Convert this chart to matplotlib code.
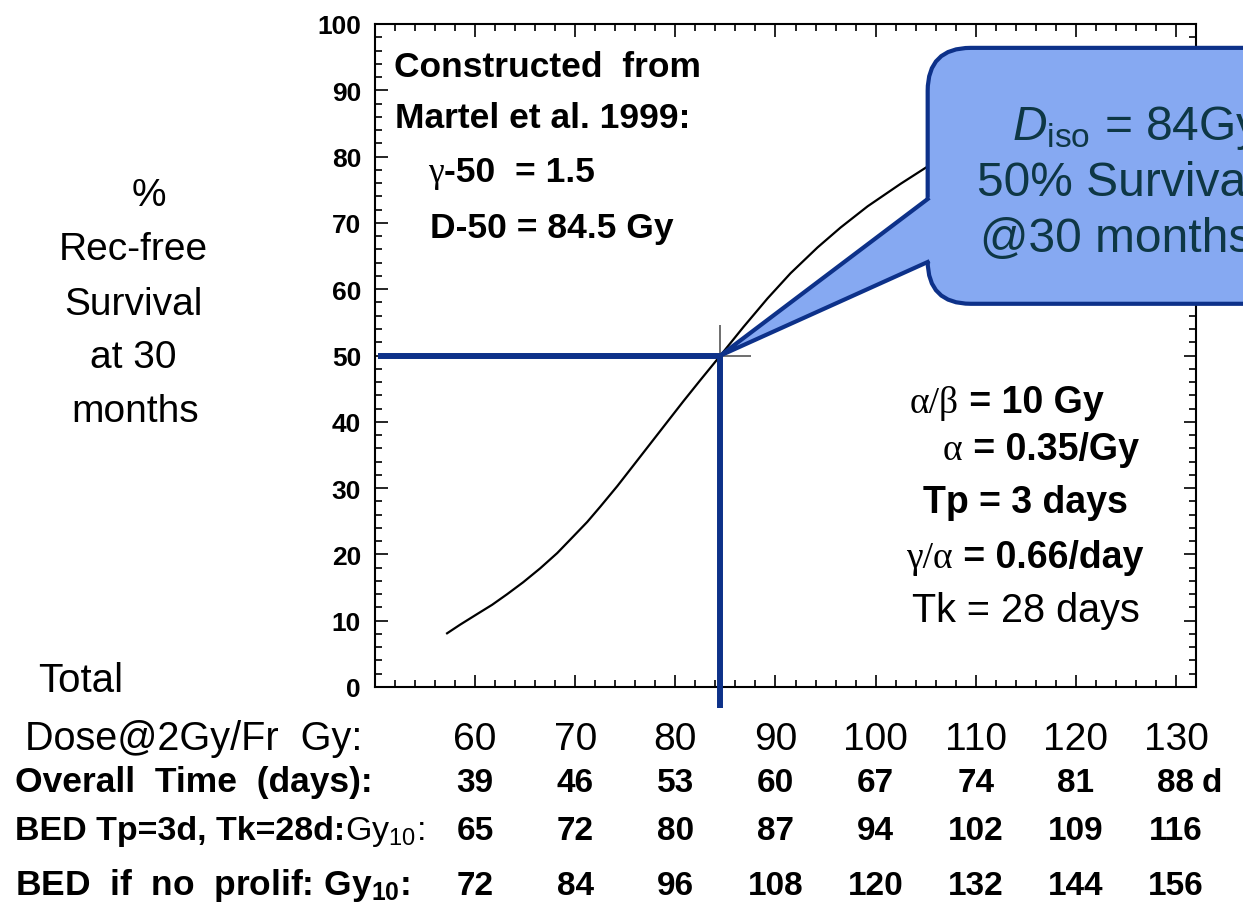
import numpy as np
import matplotlib.pyplot as plt
import matplotlib.transforms as mtransforms
from matplotlib.patches import FancyBboxPatch, Polygon
from matplotlib.ticker import MultipleLocator

plt.rcParams['font.family'] = ['Liberation Sans', 'DejaVu Sans']
plt.rcParams['mathtext.fontset'] = 'custom'
plt.rcParams['mathtext.rm'] = 'Liberation Sans'
plt.rcParams['mathtext.it'] = 'Liberation Sans:italic'
plt.rcParams['mathtext.bf'] = 'Liberation Sans:bold'

# Recurrence-free survival at 30 months vs total dose (2 Gy fractions)
dose = [57.2, 58.5, 60.2, 61.7, 63.2, 64.8, 66.5, 68.2, 69.8, 71.2, 72.5,
        74.2, 75.8, 77.5, 79.2, 80.8, 82.5, 84.5, 86.8, 89.2, 91.5, 94.2,
        96.5, 99.2, 102.5, 105.7]
survival = [8.1, 9.4, 11.0, 12.4, 14.0, 15.8, 17.9, 20.2, 22.7, 24.9, 27.2,
            30.3, 33.4, 36.7, 40.0, 43.1, 46.3, 50.0, 54.3, 58.6, 62.4, 66.3,
            69.3, 72.5, 75.9, 79.0]

d50 = 84.5      # dose for 50 % survival
s50 = 50

# Table under the dose axis
dose_cols = [60, 70, 80, 90, 100, 110, 120, 130]
overall_time = [39, 46, 53, 60, 67, 74, 81, 88]
bed_prolif = [65, 72, 80, 87, 94, 102, 109, 116]
bed_no_prolif = [72, 84, 96, 108, 120, 132, 144, 156]

navy = '#0d3189'
box_face = '#86a9f2'
box_text = '#0e3745'

W, H = 1243, 904
fig = plt.figure(figsize=(W / 100, H / 100), dpi=100)
ax = fig.add_axes([375 / W, 1 - 688 / H, 821 / W, 663 / H])
ax.set_xlim(50, 132)
ax.set_ylim(0, 100)

ax.plot(dose, survival, color='k', lw=1.6, zorder=3,
        solid_joinstyle='round')

# small crosshair on the 50 % point
ax.plot([d50], [s50], marker='+', ms=44, mew=1.2, color='#555555', zorder=3)

# guide lines to the axes
ax.plot([50.3, d50], [s50, s50], color=navy, lw=4.3, solid_capstyle='butt',
        zorder=6, clip_on=False)
ax.plot([d50, d50], [s50, -3.2], color=navy, lw=4.3, solid_capstyle='butt',
        zorder=6, clip_on=False)

# axes styling
ax.set_xticks(dose_cols)
ax.xaxis.set_minor_locator(MultipleLocator(2))
ax.set_yticks(range(0, 101, 10))
ax.yaxis.set_minor_locator(MultipleLocator(2))
ax.tick_params(which='both', direction='in', top=True, right=True,
               width=1.2, labelbottom=False)
ax.tick_params(which='major', length=9)
ax.tick_params(which='minor', length=5)
ax.tick_params(axis='y', labelsize=19, pad=10)
for lbl in ax.get_yticklabels():
    lbl.set_fontweight('bold')
for sp in ax.spines.values():
    sp.set_linewidth(1.5)

renderer = fig.canvas.get_renderer()


def put(x, y, s, size, **kw):
    """Text placed by pixel position (from top-left), baseline aligned."""
    kw.setdefault('va', 'baseline')
    return fig.text(x / W, 1 - y / H, s, fontsize=size, **kw)


def run(x, y, parts, size):
    """Several differently styled pieces written one after the other."""
    for s, kw in parts:
        t = put(x, y, s, size, **kw)
        x = t.get_window_extent(renderer).x1


serif = dict(family='Liberation Serif')
bold = dict(fontweight='bold')

# y-axis caption
for s, x, y in [('%', 149, 206), ('Rec-free', 133, 260), ('Survival', 133, 315),
                ('at 30', 133, 368), ('months', 135, 422)]:
    put(x, y, s, 28, ha='center')

# model parameters (upper left)
put(394, 77, 'Constructed  from', 25.5, **bold)
put(395, 128, 'Martel et al. 1999:', 25.5, **bold)
run(428, 182, [('γ', serif), ('-50  = 1.5', bold)], 25.5)
put(430, 238, 'D-50 = 84.5 Gy', 25.5, **bold)

# radiobiology parameters (lower right)
run(910, 413, [('α/β', serif), (' = 10 Gy', bold)], 27)
run(943, 460, [('α', serif), (' = 0.35/Gy', bold)], 27)
put(923, 513, 'Tp = 3 days', 27, **bold)
run(906, 568, [('γ/α', serif), (' = 0.66/day', bold)], 27)
put(912, 622, 'Tk = 28 days', 28.5)

# table rows
put(38, 692, 'Total', 29)
put(25, 750, 'Dose@2Gy/Fr  Gy:', 28.5)
put(15, 792, 'Overall  Time  (days):', 25.5, **bold)
run(15, 840, [('BED Tp=3d, Tk=28d:', bold), (r'Gy$_\mathregular{10}$:', {})], 24.5)
put(15, 895, r'BED  if  no  prolif: Gy$_\mathregular{10}$:', 25.5, **bold)

col = mtransforms.blended_transform_factory(ax.transData, fig.transFigure)
rows = [(dose_cols, 750, 28, 'normal'),
        (overall_time, 792, 24, 'bold'),
        (bed_prolif, 840, 24, 'bold'),
        (bed_no_prolif, 895, 24, 'bold')]
for vals, y, size, weight in rows:
    for xd, v in zip(dose_cols, vals):
        ax.text(xd, 1 - y / H, str(v), transform=col, ha='center',
                va='baseline', fontsize=size, fontweight=weight)
ax.text(dose_cols[-1] + 2.6, 1 - 792 / H, 'd', transform=col, ha='left',
        va='baseline', fontsize=24, fontweight='bold')

# callout pointing at the 50 % point
bx0, by0, by1 = 105.2, 57.8, 96.4
box = FancyBboxPatch((bx0, by0), 45, by1 - by0,
                     boxstyle='round,pad=0,rounding_size=4.3',
                     mutation_aspect=10.01 / 6.63,
                     fc=box_face, ec=navy, lw=3, zorder=10, clip_on=False)
ax.add_patch(box)

tail_top, tail_bot = 73.6, 64.1
ext = 1.5
k_top = (tail_top - s50) / (bx0 - d50)
k_bot = (tail_bot - s50) / (bx0 - d50)
fill = Polygon([(d50, s50),
                (bx0 + ext, s50 + k_top * (bx0 + ext - d50)),
                (bx0 + ext, s50 + k_bot * (bx0 + ext - d50))],
               closed=True, fc=box_face, ec='none', lw=0, zorder=11,
               clip_on=False)
ax.add_patch(fill)
ax.plot([bx0, d50, bx0], [tail_top, s50, tail_bot], color=navy, lw=3,
        solid_joinstyle='miter', zorder=12, clip_on=False)

for s, x, y in [(r'$D_\mathregular{iso}$ = 84Gy', 1012, 140),
                ('50% Survival', 977, 196),
                ('@30 months', 980, 252)]:
    t = put(x, y, s, 34.5, color=box_text)
    t.set_zorder(13)

fig.savefig('out.png', dpi=100)
